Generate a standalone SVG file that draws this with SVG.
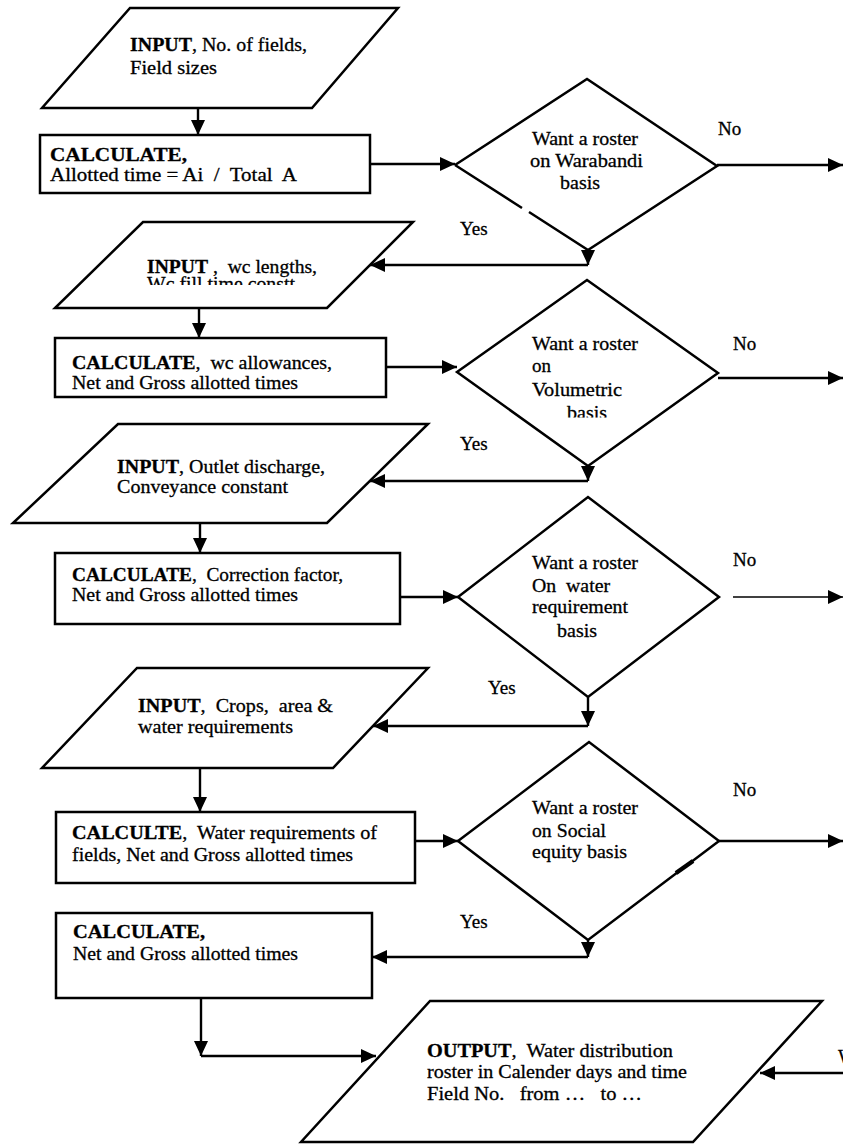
<svg xmlns="http://www.w3.org/2000/svg" width="843" height="1144" viewBox="0 0 843 1144">
<defs>
<style>
.s{fill:#fff;stroke:#000;stroke-width:2.5;stroke-linejoin:miter}
.c{fill:none;stroke:#000;stroke-width:2.4}
.a{marker-end:url(#ah)}
.t{font-family:"Liberation Serif","Times New Roman",serif;font-size:19px;fill:#000;stroke:#000;stroke-width:0.3;white-space:pre}
.b{font-weight:bold}
</style>
<marker id="ah" markerUnits="userSpaceOnUse" markerWidth="15" markerHeight="14" refX="15" refY="7" orient="auto">
<path d="M0,0 L15,7 L0,14 z" fill="#000"/>
</marker>
<clipPath id="clipA"><rect x="100" y="250" width="300" height="35"/></clipPath>
<clipPath id="clipB"><rect x="500" y="395" width="150" height="22.5"/></clipPath>
</defs>
<rect width="843" height="1144" fill="#fff"/>

<g id="input1">
<polygon class="s" points="130,8 398,8 312,108 42,108"/>
<text class="t" x="130" y="51" textLength="177" lengthAdjust="spacingAndGlyphs"><tspan class="b">INPUT</tspan>, No. of fields,</text>
<text class="t" x="130" y="74" textLength="87" lengthAdjust="spacingAndGlyphs">Field sizes</text>
</g>

<g id="calc1">
<rect class="s" x="40" y="135" width="330" height="58"/>
<text class="t b" x="50" y="161" textLength="137" lengthAdjust="spacingAndGlyphs">CALCULATE,</text>
<text class="t" x="50" y="181" textLength="247" lengthAdjust="spacingAndGlyphs">Allotted time = Ai  /  Total  A</text>
</g>

<g id="dec1">
<path class="s" d="M455,165 L587,79 L717,166 L588,250 L529,212 M522,208 L455,165"/>
<text class="t" x="532" y="145" textLength="106" lengthAdjust="spacingAndGlyphs">Want a roster</text>
<text class="t" x="530" y="167" textLength="113" lengthAdjust="spacingAndGlyphs">on Warabandi</text>
<text class="t" x="560" y="189" textLength="40" lengthAdjust="spacingAndGlyphs">basis</text>
</g>

<g id="input2">
<polygon class="s" points="143,222 413,222 327,308 55,308"/>
<text class="t" x="147" y="273" textLength="170" lengthAdjust="spacingAndGlyphs"><tspan class="b">INPUT</tspan> ,  wc lengths,</text>
<text class="t" x="147" y="290" textLength="148" lengthAdjust="spacingAndGlyphs" clip-path="url(#clipA)">Wc fill time constt</text>
</g>

<g id="calc2">
<rect class="s" x="55" y="338" width="331" height="59"/>
<text class="t" x="72" y="369" textLength="260" lengthAdjust="spacingAndGlyphs"><tspan class="b">CALCULATE</tspan>,  wc allowances,</text>
<text class="t" x="72" y="389" textLength="226" lengthAdjust="spacingAndGlyphs">Net and Gross allotted times</text>
</g>

<g id="dec2">
<polygon class="s" points="457,372 587,280 718,373 588,466"/>
<text class="t" x="532" y="350" textLength="106" lengthAdjust="spacingAndGlyphs">Want a roster</text>
<text class="t" x="532" y="372">on</text>
<text class="t" x="532" y="396" textLength="90" lengthAdjust="spacingAndGlyphs">Volumetric</text>
<text class="t" x="567" y="419" textLength="40" lengthAdjust="spacingAndGlyphs" clip-path="url(#clipB)">basis</text>
</g>

<g id="input3">
<polygon class="s" points="118,424 428,424 327,523 13,523"/>
<text class="t" x="117" y="473" textLength="208" lengthAdjust="spacingAndGlyphs"><tspan class="b">INPUT</tspan>, Outlet discharge,</text>
<text class="t" x="117" y="493" textLength="171" lengthAdjust="spacingAndGlyphs">Conveyance constant</text>
</g>

<g id="calc3">
<rect class="s" x="55" y="553" width="345" height="71"/>
<text class="t" x="72" y="581" textLength="271" lengthAdjust="spacingAndGlyphs"><tspan class="b">CALCULATE</tspan>,  Correction factor,</text>
<text class="t" x="72" y="601" textLength="226" lengthAdjust="spacingAndGlyphs">Net and Gross allotted times</text>
</g>

<g id="dec3">
<polygon class="s" points="458,597 588,497 719,597 588,697"/>
<text class="t" x="532" y="569" textLength="106" lengthAdjust="spacingAndGlyphs">Want a roster</text>
<text class="t" x="532" y="592" textLength="78" lengthAdjust="spacingAndGlyphs">On  water</text>
<text class="t" x="532" y="613" textLength="96" lengthAdjust="spacingAndGlyphs">requirement</text>
<text class="t" x="557" y="637" textLength="40" lengthAdjust="spacingAndGlyphs">basis</text>
</g>

<g id="input4">
<polygon class="s" points="137,668 428,668 333,768 42,768"/>
<text class="t" x="138" y="712" textLength="195" lengthAdjust="spacingAndGlyphs"><tspan class="b">INPUT</tspan>,  Crops,  area &amp;</text>
<text class="t" x="138" y="733" textLength="155" lengthAdjust="spacingAndGlyphs">water requirements</text>
</g>

<g id="calc4">
<rect class="s" x="56" y="812" width="359" height="71"/>
<text class="t" x="72" y="839" textLength="305" lengthAdjust="spacingAndGlyphs"><tspan class="b">CALCULTE</tspan>,  Water requirements of</text>
<text class="t" x="72" y="861" textLength="281" lengthAdjust="spacingAndGlyphs">fields, Net and Gross allotted times</text>
</g>

<g id="dec4">
<polygon class="s" points="458,841 589,742 719,841 588,940"/>
<line x1="693" y1="861" x2="676" y2="873" stroke="#000" stroke-width="4.5"/>
<text class="t" x="532" y="814" textLength="106" lengthAdjust="spacingAndGlyphs">Want a roster</text>
<text class="t" x="532" y="837" textLength="74" lengthAdjust="spacingAndGlyphs">on Social</text>
<text class="t" x="532" y="858" textLength="95" lengthAdjust="spacingAndGlyphs">equity basis</text>
</g>

<g id="calc5">
<rect class="s" x="56" y="913" width="316" height="85"/>
<text class="t b" x="73" y="938" textLength="132" lengthAdjust="spacingAndGlyphs">CALCULATE,</text>
<text class="t" x="73" y="960" textLength="225" lengthAdjust="spacingAndGlyphs">Net and Gross allotted times</text>
</g>

<g id="output">
<polygon class="s" points="430,1001 822,1001 693,1142 301,1142"/>
<text class="t" x="427" y="1057" textLength="246" lengthAdjust="spacingAndGlyphs"><tspan class="b">OUTPUT</tspan>,  Water distribution</text>
<text class="t" x="427" y="1078" textLength="260" lengthAdjust="spacingAndGlyphs">roster in Calender days and time</text>
<text class="t" x="427" y="1100" textLength="215" lengthAdjust="spacingAndGlyphs">Field No.   from …   to …</text>
</g>

<g id="labels">
<text class="t" x="718" y="135">No</text>
<text class="t" x="733" y="350">No</text>
<text class="t" x="733" y="566">No</text>
<text class="t" x="733" y="796">No</text>
<text class="t" x="460" y="235">Yes</text>
<text class="t" x="460" y="450">Yes</text>
<text class="t" x="488" y="694">Yes</text>
<text class="t" x="460" y="928">Yes</text>
<text class="t" x="838" y="1063">W</text>
</g>

<g id="connectors">
<path class="c a" d="M198,108 V135"/>
<path class="c a" d="M370,164 H455"/>
<path class="c a" d="M717,165 H843"/>
<path class="c a" d="M588,250 V265"/>
<path class="c a" d="M588,265 H370"/>
<path class="c a" d="M199,308 V338"/>
<path class="c a" d="M386,367 H457"/>
<path class="c a" d="M718,378 H843"/>
<path class="c a" d="M588,466 V481"/>
<path class="c a" d="M588,481 H370"/>
<path class="c a" d="M200,523 V553"/>
<path class="c a" d="M400,597 H458"/>
<path class="c a" d="M733,597 H843" style="stroke-width:1.6"/>
<path class="c a" d="M588,697 V726"/>
<path class="c a" d="M588,726 H373"/>
<path class="c a" d="M200,768 V812"/>
<path class="c a" d="M415,841 H458"/>
<path class="c a" d="M719,841 H843"/>
<path class="c a" d="M588,940 V957"/>
<path class="c a" d="M588,957 H372"/>
<path class="c a" d="M201,998 V1056"/>
<path class="c a" d="M201,1056 H376"/>
<path class="c a" d="M843,1073 H760"/>
</g>
</svg>
